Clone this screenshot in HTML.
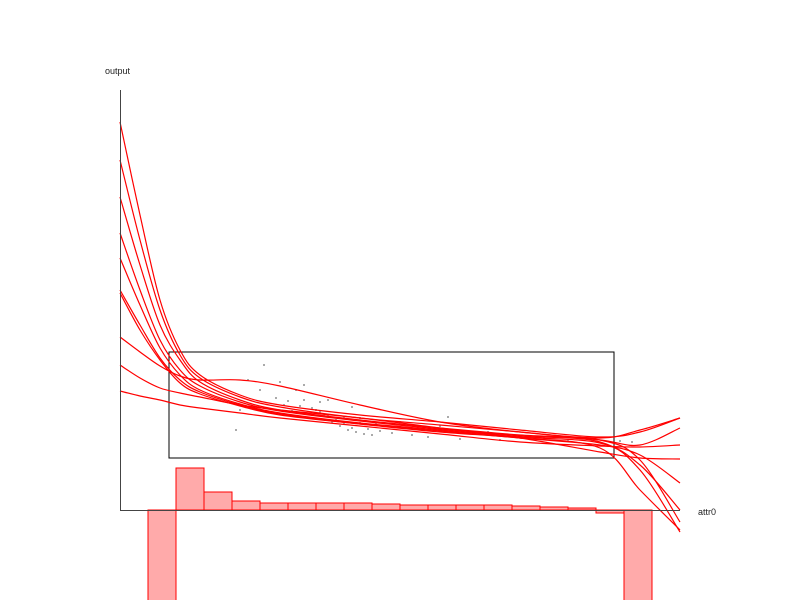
<!DOCTYPE html>
<html><head><meta charset="utf-8"><style>
body{margin:0;background:#fff;}
svg{display:block;font-family:"Liberation Sans",sans-serif;}
</style></head><body>
<svg id="chart" width="800" height="600">
<text x="105" y="74" font-size="9" fill="#222">output</text>
<text x="698" y="515" font-size="9" fill="#222">attr0</text>
<g id="hist"></g>
<g id="scatter"></g>
<rect x="169" y="352" width="445" height="106" fill="none" stroke="#000" stroke-width="1"/>
<g id="curves"></g>
<line x1="120.5" y1="90" x2="120.5" y2="510" stroke="#444"/>
<line x1="120" y1="510.5" x2="680" y2="510.5" stroke="#444"/>
</svg>
<script>
// sample x positions (data units)
const sampleX = [0,0.5,1,1.5,2,3,4,6,8,10,12,13,14];
const curve1 = [38.8,29.5,21,16,13.5,11.5,10.5,9.5,8.8,8,7.3,7.8,9.2];
const curve2 = [35,27,20,15.5,13.2,11.3,10.3,9.2,8.5,7.8,7,6.5,8.2];
const curve3 = [31.3,24.5,18.5,15,12.8,11,10,9,8.2,7.5,7,5,-1.2];
const curve4 = [27.7,22,17,14,12.4,10.8,9.9,8.9,8.1,7.4,6.8,4,-2.2];
const curve5 = [25.2,20.5,16.2,13.5,12,10.6,9.7,8.7,8,7.3,6.7,4.5,0];
const curve6 = [22,18.5,15.2,13,11.8,10.5,9.6,8.6,7.9,7.2,6.5,5.5,2.7];
const curve7 = [21.7,18,15,12.7,11.6,10.4,9.5,8.6,7.8,7.2,6.2,2,-2];
const curve8 = [17.3,15.8,14.4,13.4,13,13,12.4,10.5,8.8,7.8,7.2,8,9.2];
const curve9 = [14.5,13.2,12.2,11.7,11.3,10.5,10,9.2,8.2,7.2,5.8,5.2,5.1];
const curve10 = [11.9,11.4,11,10.5,10.2,9.7,9.2,8.4,7.6,6.8,6.4,6.3,6.5];
const curves = [curve1,curve2,curve3,curve4,curve5,curve6,curve7,curve8,curve9,curve10];
// histogram (bin counts; negative = below axis)
const histCounts = [-12,4.2,1.8,0.9,0.7,0.7,0.7,0.7,0.6,0.5,0.5,0.5,0.5,0.4,0.3,0.2,-0.3,-12];
const histStart = 0.7, histBinWidth = 0.7;
// scatter points
const scatterX = [3.6,3.2,4.0,4.4,4.6,4.1,4.8,5.0,5.2,5.4,5.6,5.8,5.3,5.5,5.7,5.9,6.1,6.3,6.0,6.2,4.9,5.1,4.7,4.5,4.3,6.5,6.8,7.0,7.3,7.7,8.0,8.5,9.0,9.5,10.0,10.6,11.2,11.8,12.5,12.8,3.5,3.9,4.2,5.0,5.6,6.4,3.0,2.9,6.0,7.0,5.2,5.8,4.6,8.2,9.2];
const scatterY = [14.5,13.0,12.8,12.0,11.0,10.5,10.2,9.8,9.5,9.0,8.6,8.2,8.8,8.4,8.0,7.8,7.6,7.5,8.7,8.1,10.0,9.4,9.6,10.4,9.9,7.9,7.7,8.3,7.5,7.3,8.4,7.1,7.6,7.0,7.3,7.2,7.0,6.9,6.9,6.8,12.0,11.2,10.9,10.8,9.3,8.6,10.0,8.0,9.2,8.8,11.0,10.3,12.5,9.3,7.8];

const X = v => 120 + v*40;
const Y = v => 510 - v*10;
const NS = "http://www.w3.org/2000/svg";

const hg = document.getElementById('hist');
histCounts.forEach((c,i)=>{
  const r = document.createElementNS(NS,'rect');
  const x0 = X(histStart + i*histBinWidth), x1 = X(histStart + (i+1)*histBinWidth);
  const y0 = Math.min(Y(c),Y(0)), y1 = Math.max(Y(c),Y(0));
  r.setAttribute('x',x0); r.setAttribute('y',y0);
  r.setAttribute('width',x1-x0); r.setAttribute('height',y1-y0);
  r.setAttribute('fill','#ffaaaa'); r.setAttribute('stroke','#ff0000'); r.setAttribute('stroke-width','1');
  
  
  hg.appendChild(r);
});

const sg = document.getElementById('scatter');
scatterX.forEach((v,i)=>{
  const r = document.createElementNS(NS,'rect');
  r.setAttribute('x',X(v)-1); r.setAttribute('y',Y(scatterY[i])-1);
  r.setAttribute('width',2); r.setAttribute('height',2);
  r.setAttribute('fill','#aaa');
  
  
  sg.appendChild(r);
});

const cg = document.getElementById('curves');
function smoothPath(pts){
  let d = `M${pts[0][0]},${pts[0][1]}`;
  for(let i=0;i<pts.length-1;i++){
    const p0=pts[Math.max(i-1,0)],p1=pts[i],p2=pts[i+1],p3=pts[Math.min(i+2,pts.length-1)];
    const c1x=p1[0]+(p2[0]-p0[0])/6,c1y=p1[1]+(p2[1]-p0[1])/6;
    const c2x=p2[0]-(p3[0]-p1[0])/6,c2y=p2[1]-(p3[1]-p1[1])/6;
    d+=` C${c1x},${c1y} ${c2x},${c2y} ${p2[0]},${p2[1]}`;
  }
  return d;
}
curves.forEach((c,k)=>{
  const p = document.createElementNS(NS,'path');
  p.setAttribute('d', smoothPath(c.map((v,i)=>[X(sampleX[i]),Y(v)])));
  p.setAttribute('fill','none'); p.setAttribute('stroke','#ff0000'); p.setAttribute('stroke-width','1.2');
  
  
  cg.appendChild(p);
});
</script>
</body></html>
